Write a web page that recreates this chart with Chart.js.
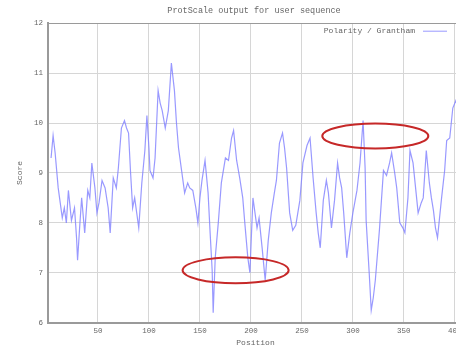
<!DOCTYPE html>
<html>
<head>
<meta charset="utf-8">
<script src="https://cdn.jsdelivr.net/npm/chart.js@4.4.1/dist/chart.umd.min.js"></script>
<style>
  html, body { margin: 0; padding: 0; background: #fff; overflow: hidden; }
  #wrap { width: 508px; height: 354px; }
  #myChart { filter: blur(0.4px); }
</style>
</head>
<body>
<div id="wrap"><canvas id="myChart" width="508" height="354"></canvas></div>
<script>
// residue positions and their scores
const positions = [
  4, 6, 8, 11, 13, 15, 17, 19, 21, 24, 27, 29, 30, 32, 34, 37, 40, 42, 44, 47,
  49, 51, 54, 57, 60, 62, 65, 68, 70, 73, 76, 78, 80, 82, 84, 86, 88, 90, 93, 96,
  98, 100, 101, 104, 106, 109, 111, 113, 116, 119, 122, 125, 127, 129, 132, 135, 138, 140, 143, 146,
  148, 150, 152, 155, 158, 160, 162, 163, 165, 168, 171, 175, 178, 181, 183, 186, 189, 192, 194, 197,
  199, 202, 206, 208, 211, 214, 217, 220, 223, 225, 228, 231, 233, 235, 238, 241, 244, 246, 248, 251,
  255, 258, 261, 264, 266, 268, 271, 274, 276, 279, 282, 285, 287, 289, 291, 294, 297, 300, 304, 307,
  310, 312, 313, 316, 318, 320, 322, 326, 330, 333, 336, 338, 341, 343, 346, 349, 351, 354, 356, 359,
  362, 364, 367, 369, 372, 375, 377, 379, 381, 383, 385, 387, 390, 392, 395, 398, 401, 404, 406
];
const scores = [
  9.3, 9.75, 9.4, 8.7, 8.4, 8.1, 8.3, 8.0, 8.65, 8.05, 8.3, 7.7, 7.25, 7.9, 8.5, 7.8, 8.65, 8.5, 9.2, 8.7,
  8.2, 8.4, 8.85, 8.7, 8.3, 7.8, 8.9, 8.7, 9.1, 9.9, 10.05, 9.9, 9.8, 9.0, 8.3, 8.5, 8.2, 7.9, 8.8, 9.45,
  10.15, 9.5, 9.05, 8.9, 9.3, 10.65, 10.4, 10.25, 9.9, 10.25, 11.2, 10.65, 10.0, 9.5, 9.05, 8.6, 8.8, 8.7, 8.65, 8.3,
  8.0, 8.5, 8.85, 9.25, 8.6, 7.8, 7.05, 6.2, 7.3, 8.0, 8.8, 9.3, 9.25, 9.7, 9.85, 9.25, 8.9, 8.5, 8.0, 7.3,
  7.0, 8.5, 7.9, 8.1, 7.5, 6.85, 7.65, 8.2, 8.6, 8.85, 9.6, 9.8, 9.5, 9.1, 8.2, 7.85, 7.95, 8.2, 8.45, 9.2,
  9.55, 9.7, 8.9, 8.2, 7.8, 7.5, 8.45, 8.85, 8.6, 7.9, 8.45, 9.2, 8.9, 8.7, 8.2, 7.3, 7.8, 8.2, 8.65, 9.2,
  10.05, 9.1, 8.05, 7.0, 6.25, 6.5, 6.85, 7.85, 9.05, 8.95, 9.2, 9.4, 9.0, 8.7, 8.0, 7.9, 7.8, 8.5, 9.45, 9.2,
  8.6, 8.2, 8.4, 8.5, 9.45, 8.8, 8.5, 8.25, 7.9, 7.7, 8.1, 8.5, 9.05, 9.65, 9.7, 10.3, 10.45, 10.3, 10.1
];

const xTicks = [50, 100, 150, 200, 250, 300, 350, 400];
const yTicks = [6, 7, 8, 9, 10, 11, 12];

// red rings drawn over the plot (data coordinates)
const rings = [
  { x: 185, y: 7.05, rx: 52, ry: 0.26 },
  { x: 322, y: 9.74, rx: 52, ry: 0.25 }
];

const lineColor = 'rgba(128,128,255,0.8)';
const gridColor = '#d6d6d6';
const frameColor = '#9a9a9a';
const textColor = '#666';
const mono = "'Liberation Mono', 'DejaVu Sans Mono', monospace";

Chart.defaults.font.family = mono;
Chart.defaults.font.size = 7.5;
Chart.defaults.color = textColor;

const ringPlugin = {
  id: 'rings',
  afterDatasetsDraw(chart) {
    const { ctx, scales: { x, y } } = chart;
    ctx.save();
    ctx.strokeStyle = '#c62828';
    ctx.lineWidth = 2;
    rings.forEach(r => {
      const cx = x.getPixelForValue(r.x);
      const cy = y.getPixelForValue(r.y);
      const w = x.getPixelForValue(r.x + r.rx) - cx;
      const h = cy - y.getPixelForValue(r.y + r.ry);
      ctx.beginPath();
      ctx.ellipse(cx, cy, w, h, 0, 0, Math.PI * 2);
      ctx.stroke();
    });
    ctx.restore();
  }
};

// gnuplot style key inside the top right corner
const keyPlugin = {
  id: 'key',
  afterDraw(chart) {
    const { ctx, chartArea } = chart;
    const yy = chartArea.top + 8;
    ctx.save();
    ctx.font = '8px ' + mono;
    ctx.fillStyle = textColor;
    ctx.textAlign = 'right';
    ctx.textBaseline = 'middle';
    ctx.fillText('Polarity / Grantham', chartArea.right - 48, yy);
    ctx.strokeStyle = lineColor;
    ctx.lineWidth = 1;
    ctx.beginPath();
    ctx.moveTo(chartArea.right - 40, yy);
    ctx.lineTo(chartArea.right - 16, yy);
    ctx.stroke();
    ctx.restore();
  }
};

const ctx = document.getElementById('myChart').getContext('2d');
const myChart = new Chart(ctx, {
  type: 'line',
  data: {
    datasets: [{
      label: 'Polarity / Grantham',
      data: positions.map((p, i) => ({ x: p, y: scores[i] })),
      borderColor: lineColor,
      borderWidth: 1.2,
      pointRadius: 0,
      tension: 0,
      fill: false
    }]
  },
  options: {
    responsive: false,
    animation: false,
    layout: { padding: { left: 15, right: 15, top: 0, bottom: 6 } },
    scales: {
      x: {
        type: 'linear',
        min: 1,
        max: 408,
        afterBuildTicks: s => { s.ticks = xTicks.map(v => ({ value: v })); },
        afterFit: s => { s.height = 25.3; },
        ticks: { padding: 4, maxRotation: 0, autoSkip: false },
        grid: { color: gridColor, drawTicks: false },
        border: { color: frameColor, width: 2 },
        title: { display: true, text: 'Position', padding: 0, font: { size: 8 } }
      },
      y: {
        min: 6,
        max: 12,
        afterBuildTicks: s => { s.ticks = yTicks.map(v => ({ value: v })); },
        afterFit: s => { s.width = 33; },
        ticks: { padding: 5 },
        grid: {
          color: c => (c.tick && c.tick.value === 12 ? frameColor : gridColor),
          drawTicks: false
        },
        border: { color: frameColor, width: 2 },
        title: { display: true, text: 'Score', padding: 0, font: { size: 8 } }
      },
      // empty right margin, off screen, keeps the title centred like the original
      yRight: {
        position: 'right',
        min: 6,
        max: 12,
        afterFit: s => { s.width = 30; },
        ticks: { display: false },
        grid: { display: false, drawTicks: false },
        border: { display: false }
      }
    },
    plugins: {
      legend: { display: false },
      tooltip: { enabled: false },
      title: {
        display: true,
        text: 'ProtScale output for user sequence',
        font: { size: 8.5, weight: 'normal' },
        padding: { top: 6, bottom: 7 }
      }
    }
  },
  plugins: [ringPlugin, keyPlugin]
});
</script>
</body>
</html>
